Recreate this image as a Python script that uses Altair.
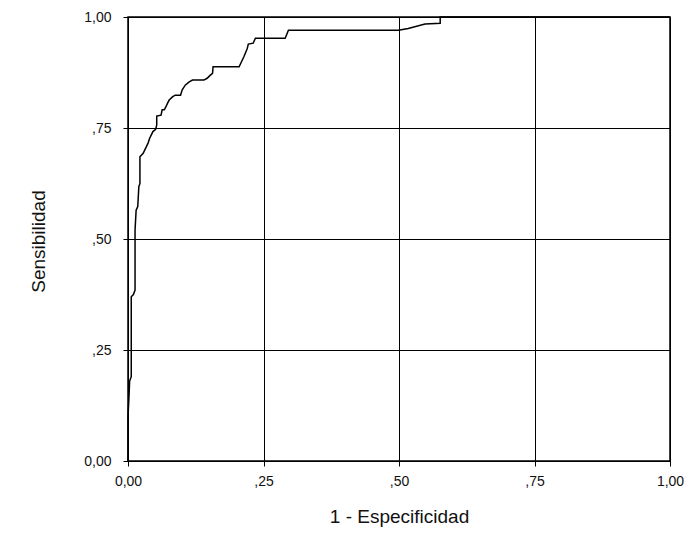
import altair as alt
import pandas as pd

# ROC curve points (1 - specificity, sensitivity)
fpr = [0.0, 0.0, 0.002, 0.003, 0.006, 0.006, 0.010, 0.013, 0.013, 0.015, 0.018,
       0.020, 0.022, 0.022, 0.028, 0.037, 0.040, 0.046, 0.051, 0.053, 0.053,
       0.061, 0.063, 0.067, 0.070, 0.073, 0.076, 0.082, 0.087, 0.097, 0.100,
       0.106, 0.113, 0.119, 0.140, 0.146, 0.152, 0.156, 0.157, 0.205, 0.214,
       0.220, 0.222, 0.231, 0.235, 0.271, 0.290, 0.296, 0.499, 0.517, 0.548,
       0.576, 0.576, 1.0]
tpr = [0.0, 0.10, 0.15, 0.18, 0.19, 0.37, 0.375, 0.385, 0.52, 0.565, 0.573,
       0.618, 0.625, 0.685, 0.693, 0.716, 0.727, 0.742, 0.747, 0.757, 0.777,
       0.779, 0.791, 0.791, 0.798, 0.806, 0.813, 0.820, 0.824, 0.824, 0.836,
       0.847, 0.854, 0.858, 0.858, 0.862, 0.869, 0.873, 0.888, 0.888, 0.911,
       0.929, 0.939, 0.941, 0.952, 0.952, 0.952, 0.970, 0.970, 0.974, 0.984,
       0.986, 1.0, 1.0]

tick_values = [0, 0.25, 0.5, 0.75, 1.0]

df = pd.DataFrame({"fpr": fpr, "tpr": tpr, "order": list(range(len(fpr)))})

label_expr = "datum.value == 0 ? '0,00' : datum.value == 1 ? '1,00' : ',' + format(datum.value * 100, '02d')"

FONT = "Liberation Sans"

x_axis = alt.Axis(
    values=tick_values, labelExpr=label_expr, title="1 - Especificidad",
    grid=True, gridColor="black", gridOpacity=1, gridWidth=1,
    domain=False, ticks=True, tickColor="black", tickSize=5,
    labelFont=FONT, labelFontSize=14, labelColor="#111", labelPadding=8,
    labelFlush=False, labelOverlap=False,
    titleFont=FONT, titleFontSize=19, titleFontWeight="normal", titleColor="#111",
    titleX=271, titleY=55, titleBaseline="middle", titleAlign="center",
)
y_axis = alt.Axis(
    values=tick_values, labelExpr=label_expr, title="Sensibilidad",
    grid=True, gridColor="black", gridOpacity=1, gridWidth=1,
    domain=False, ticks=True, tickColor="black", tickSize=5,
    labelFont=FONT, labelFontSize=14, labelColor="#111", labelPadding=12,
    labelFlush=False, labelOverlap=False,
    titleFont=FONT, titleFontSize=19, titleFontWeight="normal", titleColor="#111",
    titleX=-90, titleY=224, titleAngle=270, titleBaseline="middle", titleAlign="center",
)

chart = alt.Chart(df).mark_line(color="black", strokeWidth=1.5, interpolate="linear").encode(
    x=alt.X("fpr:Q", scale=alt.Scale(domain=[0, 1], nice=False, zero=False), axis=x_axis),
    y=alt.Y("tpr:Q", scale=alt.Scale(domain=[0, 1], nice=False, zero=False), axis=y_axis),
    order="order:O",
).properties(
    width=542, height=444,
    autosize=alt.AutoSizeParams(type="none"),
    padding={"left": 120, "top": 9, "right": 15, "bottom": 80},
    background="white",
).configure_view(stroke="black", strokeWidth=1.5)

chart.save("out.html", embed_options={"renderer": "svg", "actions": False})
